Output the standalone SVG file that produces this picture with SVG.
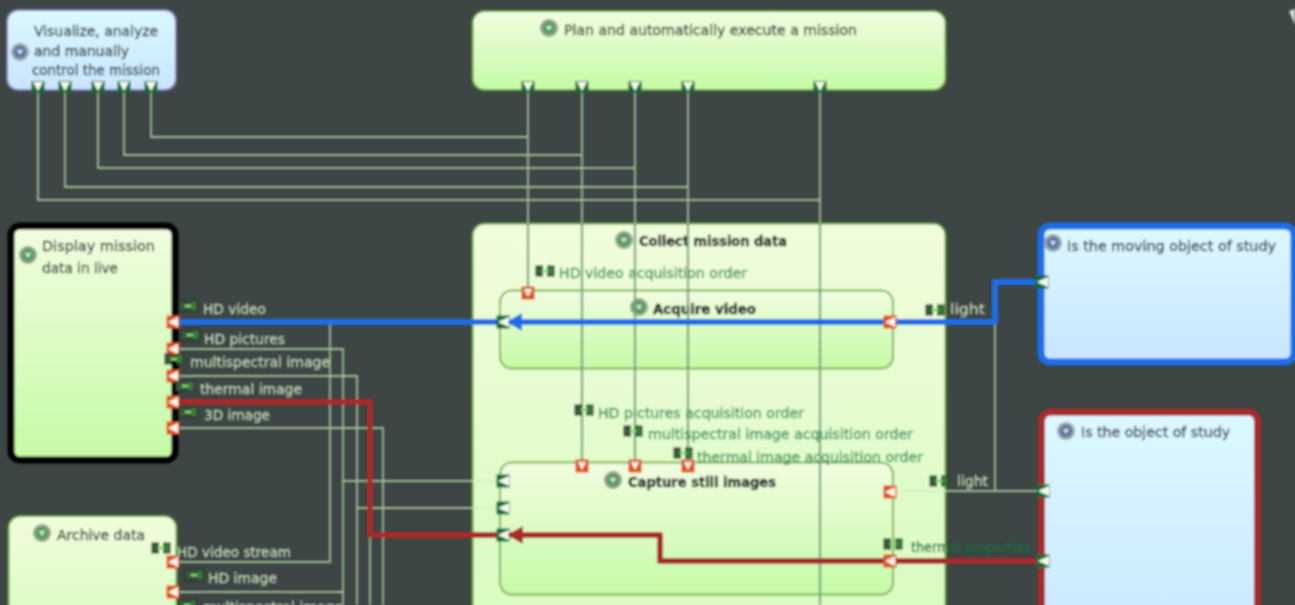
<svg xmlns="http://www.w3.org/2000/svg" width="1295" height="605" viewBox="0 0 1295 605">
<style>
text{font-family:"DejaVu Sans","Liberation Sans",sans-serif;font-size:14px;stroke-width:.3;paint-order:stroke}
.t{fill:#30383a;stroke:#30383a}
.b{fill:#14181a;stroke:#14181a;stroke-width:.4;font-weight:bold}
.l{fill:#c6dcb8;stroke:#c6dcb8}
.g{fill:#37905f;stroke:#37905f}
.wire{fill:none;stroke:#a3c196;stroke-width:1.8}
.inner{fill:none;stroke:#6fa380;stroke-width:2.2}
.pale{fill:none;stroke:#cfeebd;stroke-width:1.5}
.blue{fill:none;stroke:#1a6de8;stroke-width:6;stroke-linejoin:round}
.red{fill:none;stroke:#a82a2c;stroke-width:6;stroke-linejoin:round}
.gn{fill:url(#green);stroke:#6ba63f;stroke-width:2}
.in{fill:url(#green);stroke:#7fb35a;stroke-width:2}
</style>
<defs>
<linearGradient id="green" x1="0" y1="0" x2="0" y2="1"><stop offset="0" stop-color="#f1fde0"/><stop offset="1" stop-color="#c6faa6"/></linearGradient>
<linearGradient id="greenl" x1="0" y1="0" x2="0" y2="1"><stop offset="0" stop-color="#f0fddc"/><stop offset="1" stop-color="#d6fbbd"/></linearGradient>
<linearGradient id="bluef" x1="0" y1="0" x2="0" y2="1"><stop offset="0" stop-color="#dcf8ff"/><stop offset="1" stop-color="#c8e5fe"/></linearGradient>
<filter id="soft" x="-2%" y="-2%" width="104%" height="104%"><feGaussianBlur stdDeviation="0.85"/></filter>
<g id="pd"><rect x="-6.500" y="-6" width="13" height="12" fill="#0f6a35"/><path d="M-5-5H5L0 4Z" fill="#f7fcee"/></g>
<g id="pl"><rect x="-6.500" y="-6.500" width="13" height="13" fill="#0f6a35"/><path d="M6-5V5L-5 0Z" fill="#f7fcee"/></g>
<g id="ol"><rect x="-6.500" y="-6.500" width="13" height="13" fill="#e0501c"/><path d="M5-5V5L-5 0Z" fill="#fff6ea"/></g>
<g id="od"><rect x="-6.500" y="-6.500" width="13" height="13" fill="#e0501c"/><path d="M-4-4H4L0 4Z" fill="#fff6ea"/></g>
<g id="tag"><rect x="-9" y="-5" width="6.500" height="10" fill="#3a5a3c" stroke="#1c2a20"/><rect x="2.500" y="-5" width="6.500" height="10" fill="#3a7a3c" stroke="#1c2a20"/><path d="M-3 0H3" stroke="#7fe06a" stroke-width="3"/></g>
<g id="ig"><circle r="9" fill="#8fa08c"/><circle r="6" fill="#4fa060"/><path d="M-3-2H3L0 3Z" fill="#d8e8d0"/></g>
<g id="ib"><circle r="9" fill="#9aa2aa"/><circle r="6" fill="#5577a0"/><path d="M-3-2H3L0 3Z" fill="#d8e0ea"/></g>
</defs>
<rect width="1295" height="605" fill="#3d4645"/>
<g filter="url(#soft)">
<g id="node-collect"><rect class="gn" x="472.500" y="223.500" width="473" height="440" rx="12" style="fill:url(#greenl)"/><use href="#ig" x="624" y="240"/><text class="b" x="639" y="246" textLength="148" lengthAdjust="spacingAndGlyphs">Collect mission data</text></g>
<g id="node-acquire"><rect class="in" x="500" y="290.500" width="393" height="78" rx="12"/><use href="#ig" x="639" y="307"/><text class="b" x="653" y="314" textLength="103" lengthAdjust="spacingAndGlyphs">Acquire video</text></g>
<g id="node-capture"><rect class="in" x="500" y="462.500" width="393" height="132" rx="12"/><use href="#ig" x="613" y="480"/><text class="b" x="628" y="487" textLength="148" lengthAdjust="spacingAndGlyphs">Capture still images</text></g>
<g id="connectors">
<path class="wire" d="M38 90V200H820M65 90V187H688M98 90V168H635M124 90V155H582M151 90V137H528"/>
<path class="inner" d="M528 223V288M582 223V460M635 223V460M688 223V460M820 223V605"/>
<path class="wire" d="M820 90V223M688 90V223M635 90V223M582 90V223M528 90V223"/>
<path class="wire" d="M178 562H330V322M178 592H343M178 349H343V605M178 376H357V605M178 428H383V605M370 535V605M343 481H472M357 508H472M995 322V491M946 491H1038"/>
<path class="pale" d="M472 481H498M472 508H498M893 491H946"/>
<path class="blue" d="M1038 282H995V322H178"/>
<path class="red" d="M1038 561H660V535H370V402H178"/>
</g>
<g id="node-visualize"><rect x="7" y="10" width="169" height="80" rx="11" fill="url(#bluef)" stroke="#7f7db5" stroke-width="2"/><use href="#ib" x="20" y="52"/><text class="t" x="34" y="36" textLength="124" lengthAdjust="spacingAndGlyphs">Visualize, analyze</text><text class="t" x="34" y="56" textLength="95" lengthAdjust="spacingAndGlyphs">and manually</text><text class="t" x="32" y="75" textLength="128" lengthAdjust="spacingAndGlyphs">control the mission</text><use href="#pd" x="38" y="87"/><use href="#pd" x="65" y="87"/><use href="#pd" x="98" y="87"/><use href="#pd" x="124" y="87"/><use href="#pd" x="151" y="87"/></g>
<g id="node-plan"><rect class="gn" x="472.500" y="11" width="473" height="79" rx="12"/><use href="#ig" x="549" y="28"/><text class="t" x="564" y="35" textLength="293" lengthAdjust="spacingAndGlyphs">Plan and automatically execute a mission</text><use href="#pd" x="528" y="87"/><use href="#pd" x="582" y="87"/><use href="#pd" x="635" y="87"/><use href="#pd" x="688" y="87"/><use href="#pd" x="820" y="87"/></g>
<g id="node-display"><rect x="11" y="226" width="164" height="234" rx="9" fill="url(#green)" stroke="#000" stroke-width="7"/><use href="#ig" x="28" y="255"/><text class="t" x="42" y="251" textLength="113" lengthAdjust="spacingAndGlyphs">Display mission</text><text class="t" x="42" y="273" textLength="76" lengthAdjust="spacingAndGlyphs">data in live</text><use href="#ol" x="173" y="322"/><use href="#ol" x="173" y="349"/><use href="#ol" x="173" y="376"/><use href="#ol" x="173" y="402"/><use href="#ol" x="173" y="428"/></g>
<g id="node-archive"><rect class="gn" x="8.500" y="516" width="168" height="130" rx="12" style="fill:url(#greenl)"/><use href="#ig" x="42" y="533"/><text class="t" x="57" y="540" textLength="88" lengthAdjust="spacingAndGlyphs">Archive data</text><use href="#ol" x="173" y="562"/><use href="#ol" x="173" y="592"/></g>
<g id="node-moving"><rect x="1041" y="226" width="253" height="136" rx="9" fill="url(#bluef)" stroke="#1a6de8" stroke-width="7"/><use href="#ib" x="1053" y="243"/><text class="t" x="1067" y="251" textLength="209" lengthAdjust="spacingAndGlyphs">Is the moving object of study</text><use href="#pl" x="1042" y="282"/></g>
<g id="node-object"><rect x="1041.500" y="412" width="216" height="260" rx="9" fill="url(#bluef)" stroke="#a82a2c" stroke-width="7"/><use href="#ib" x="1066" y="431"/><text class="t" x="1081" y="437" textLength="149" lengthAdjust="spacingAndGlyphs">Is the object of study</text><use href="#pl" x="1043" y="491"/><use href="#pl" x="1043" y="561"/></g>
<g id="ports">
<use href="#pl" x="503" y="322"/><use href="#pl" x="503" y="481"/><use href="#pl" x="503" y="508"/><use href="#pl" x="503" y="535"/>
<path d="M507 322L522 313V331Z" fill="#1a6de8"/><path d="M507 535L523 526V544Z" fill="#a82a2c"/>
<use href="#od" x="528" y="293"/><use href="#od" x="582" y="466"/><use href="#od" x="635" y="466"/><use href="#od" x="688" y="466"/>
<use href="#ol" x="890" y="322"/><use href="#ol" x="890" y="492"/><use href="#ol" x="890" y="561"/>
</g>
<g id="labels">
<use href="#tag" x="188" y="306"/><text class="l" x="203" y="314" textLength="63" lengthAdjust="spacingAndGlyphs">HD video</text>
<use href="#tag" x="190" y="335"/><text class="l" x="204" y="344" textLength="81" lengthAdjust="spacingAndGlyphs">HD pictures</text>
<use href="#tag" x="174" y="359"/><text class="l" x="190" y="367" textLength="140" lengthAdjust="spacingAndGlyphs">multispectral image</text>
<use href="#tag" x="185" y="386"/><text class="l" x="200" y="394" textLength="102" lengthAdjust="spacingAndGlyphs">thermal image</text>
<use href="#tag" x="188" y="412"/><text class="l" x="204" y="420" textLength="66" lengthAdjust="spacingAndGlyphs">3D image</text>
<use href="#tag" x="161" y="548"/><text class="l" x="177" y="557" textLength="114" lengthAdjust="spacingAndGlyphs">HD video stream</text>
<use href="#tag" x="194" y="575"/><text class="l" x="208" y="583" textLength="69" lengthAdjust="spacingAndGlyphs">HD image</text>
<use href="#tag" x="187" y="605"/><text class="l" x="203" y="612" textLength="140" lengthAdjust="spacingAndGlyphs">multispectral image</text>
<use href="#tag" x="545" y="271"/><text class="g" x="559" y="278" textLength="188" lengthAdjust="spacingAndGlyphs">HD video acquisition order</text>
<use href="#tag" x="584" y="410"/><text class="g" x="598" y="418" textLength="206" lengthAdjust="spacingAndGlyphs">HD pictures acquisition order</text>
<use href="#tag" x="633" y="431"/><text class="g" x="648" y="439" textLength="265" lengthAdjust="spacingAndGlyphs">multispectral image acquisition order</text>
<use href="#tag" x="683" y="453"/><text class="g" x="697" y="462" textLength="226" lengthAdjust="spacingAndGlyphs">thermal image acquisition order</text>
<use href="#tag" x="935" y="310"/><text class="l" x="950" y="314" textLength="35" lengthAdjust="spacingAndGlyphs">light</text>
<use href="#tag" x="939" y="481"/><text class="l" x="957" y="486" textLength="31" lengthAdjust="spacingAndGlyphs">light</text>
<use href="#tag" x="893" y="544"/><text class="g" x="911" y="552" textLength="119" lengthAdjust="spacingAndGlyphs" style="fill:#1d6a40;stroke:#1d6a40">thermal properties</text>
</g>
<path d="M1289 11L1295 9V25Z" fill="#dcdcdc"/>
</g>
</svg>
